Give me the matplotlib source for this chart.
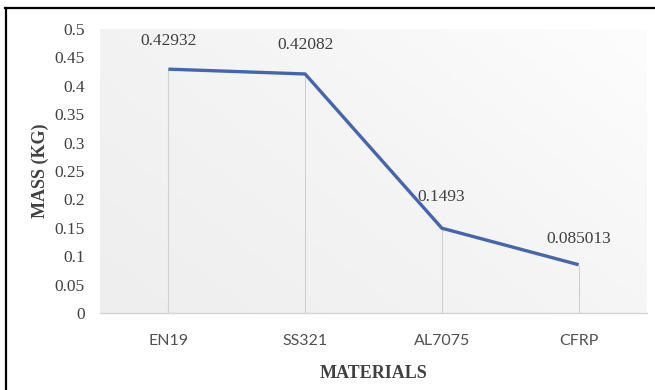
import numpy as np
import matplotlib.pyplot as plt
from matplotlib.lines import Line2D
from matplotlib.colors import LinearSegmentedColormap

# Mass of the part for each material
materials = ["EN19", "SS321", "AL7075", "CFRP"]
mass = [0.42932, 0.42082, 0.1493, 0.085013]
mass_labels = ["0.42932", "0.42082", "0.1493", "0.085013"]
y_ticks = [0, 0.05, 0.1, 0.15, 0.2, 0.25, 0.3, 0.35, 0.4, 0.45, 0.5]
y_tick_labels = ["0", "0.05", "0.1", "0.15", "0.2", "0.25", "0.3", "0.35", "0.4", "0.45", "0.5"]

serif = "Liberation Serif"

fig = plt.figure(figsize=(6.55, 3.9), dpi=100)
ax = fig.add_axes([100 / 655, 77 / 390, 547 / 655, 284 / 390])

# soft grey gradient behind the plot area
gx, gy = np.meshgrid(np.linspace(0, 1, 200), np.linspace(0, 1, 100))
shade = (gx * 0.6 + gy * 0.4)
cmap = LinearSegmentedColormap.from_list("bg", ["#eeeeee", "#f4f4f4", "#fdfdfd"])
ax.imshow(shade, cmap=cmap, extent=(-0.5, len(materials) - 0.5, 0, 0.5),
          origin="lower", aspect="auto", zorder=0)

x = list(range(len(materials)))

# thin drop lines from each point down to the axis
ax.vlines(x, 0, mass, color="#d0d0d0", linewidth=0.8, zorder=1)
ax.plot(x, mass, color="#4466b0", linewidth=2.4, solid_capstyle="butt", zorder=3)

# value labels
offsets = [(0, 28), (0, 29), (-1, 31), (0, 26)]
for xi, yi, lab, (dx, dy) in zip(x, mass, mass_labels, offsets):
    ax.annotate(lab, (xi, yi), xytext=(dx, dy), textcoords="offset pixels",
                ha="center", va="center", fontsize=12.5, family=serif,
                color="#404040", clip_on=False, zorder=4)

ax.set_xlim(-0.5, len(materials) - 0.5)
ax.set_ylim(0, 0.5)
ax.set_xticks(x)
ax.set_xticklabels(materials, fontsize=11.5, family="Lato", color="#505050")
ax.set_yticks(y_ticks)
ax.set_yticklabels(y_tick_labels, fontsize=12.5, family=serif, color="#404040")
ax.tick_params(axis="both", length=0)
ax.tick_params(axis="x", pad=15)
ax.tick_params(axis="y", pad=11)

for side in ["top", "right", "left"]:
    ax.spines[side].set_visible(False)
ax.spines["bottom"].set_color("#d4d4d4")
ax.spines["bottom"].set_linewidth(1.0)

ax.set_xlabel("MATERIALS", fontsize=13, family=serif, fontweight="bold",
              color="#404040", labelpad=12)
ax.set_ylabel("MASS (KG)", fontsize=13, family=serif, fontweight="bold",
              color="#404040", labelpad=4)

# black frame along the top and left edges
fig.add_artist(Line2D([5 / 655, 1], [382 / 390, 382 / 390], color="black",
                      linewidth=1.6, transform=fig.transFigure))
fig.add_artist(Line2D([6 / 655, 6 / 655], [0, 382 / 390], color="black",
                      linewidth=1.6, transform=fig.transFigure))

fig.savefig("out.png", dpi=100)
